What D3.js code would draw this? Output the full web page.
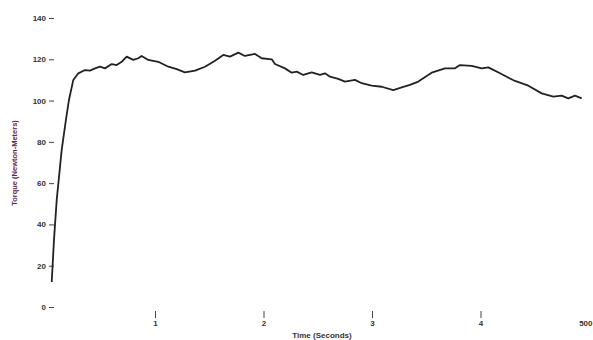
<!DOCTYPE html>
<html>
<head>
<meta charset="utf-8">
<script src="https://cdn.jsdelivr.net/npm/d3@7"></script>
<style>
  body { margin: 0; background: #fff; }
  svg { display: block; }
  .axis text { font-family: "Liberation Sans", Arial, sans-serif; font-size: 8px; font-weight: bold; fill: #333; }
  .axis line { stroke: #444; stroke-width: 1; }
</style>
</head>
<body>
<svg id="chart" width="593" height="340"></svg>
<script>
// time in seconds
var times = [0.048, 0.069, 0.094, 0.140, 0.180, 0.207, 0.247, 0.293, 0.355, 0.401,
  0.447, 0.493, 0.539, 0.601, 0.647, 0.693, 0.739, 0.800, 0.846, 0.877,
  0.938, 1.030, 1.123, 1.200, 1.276, 1.369, 1.461, 1.553, 1.629, 1.691,
  1.768, 1.829, 1.922, 1.983, 2.076, 2.106, 2.198, 2.260, 2.306, 2.367,
  2.444, 2.521, 2.567, 2.613, 2.689, 2.751, 2.843, 2.905, 2.997, 3.089,
  3.196, 3.274, 3.350, 3.427, 3.550, 3.673, 3.765, 3.811, 3.919, 4.011,
  4.072, 4.180, 4.318, 4.441, 4.564, 4.671, 4.748, 4.809, 4.871, 4.933];

// torque in newton-meters
var torque = [12.1, 32.5, 51.8, 76.1, 91.0, 100.3, 110.0, 113.2, 114.8, 114.5,
  115.6, 116.4, 115.6, 117.7, 117.2, 118.8, 121.3, 119.7, 120.5, 121.6,
  119.7, 118.8, 116.4, 115.2, 113.7, 114.5, 116.4, 119.3, 122.1, 121.3,
  123.2, 121.6, 122.6, 120.5, 120.0, 117.7, 115.6, 113.5, 114.0, 112.4,
  113.7, 112.4, 113.2, 111.6, 110.5, 109.2, 110.0, 108.4, 107.2, 106.7,
  105.1, 106.4, 107.6, 109.2, 113.5, 115.6, 115.6, 117.2, 116.8, 115.6,
  116.1, 113.2, 109.5, 107.2, 103.5, 101.9, 102.4, 101.1, 102.4, 101.1];

var yTicks = [0, 20, 40, 60, 80, 100, 120, 140];
var xTicks = [1, 2, 3, 4, 5];
var xTickLabels = ["1", "2", "3", "4", "500"];

var svg = d3.select("#chart");

var x = d3.scaleLinear().domain([0, 5]).range([46.5, 589]);
var y = d3.scaleLinear().domain([0, 140]).range([307, 18]);

var data = times.map(function(t, i) { return { t: t, v: torque[i] }; });

// y axis: tick dashes only
var yAxis = svg.append("g")
    .attr("class", "axis")
    .attr("transform", "translate(54,0)")
    .call(d3.axisLeft(y).tickValues(yTicks).tickSize(5).tickPadding(3));
yAxis.select(".domain").remove();

// x axis
var xAxis = svg.append("g")
    .attr("class", "axis")
    .attr("transform", "translate(0,311)")
    .call(d3.axisBottom(x).tickValues(xTicks).tickSize(7).tickPadding(2)
      .tickFormat(function(d, i) { return xTickLabels[i]; }));
xAxis.select(".domain").remove();

// last tick sits at the right edge: no mark, label pulled inside
var lastTick = xAxis.selectAll(".tick").filter(function(d) { return d === 5; });
lastTick.select("line").remove();
lastTick.select("text")
    .attr("text-anchor", "end")
    .attr("dx", 3);

svg.append("text")
    .attr("x", 322)
    .attr("y", 338)
    .attr("text-anchor", "middle")
    .style("font-family", "Liberation Sans, Arial, sans-serif")
    .style("font-size", "8px")
    .style("font-weight", "bold")
    .style("fill", "#333")
    .text("Time (Seconds)");

svg.append("text")
    .attr("transform", "translate(17,163) rotate(-90)")
    .attr("text-anchor", "middle")
    .style("font-family", "Liberation Sans, Arial, sans-serif")
    .style("font-size", "7.5px")
    .style("font-weight", "bold")
    .style("fill", "#5c1f4f")
    .text("Torque (Newton-Meters)");

var line = d3.line()
    .x(function(d) { return x(d.t); })
    .y(function(d) { return y(d.v); })
    .curve(d3.curveLinear);

svg.append("path")
    .datum(data)
    .attr("d", line)
    .attr("fill", "none")
    .attr("stroke", "#222")
    .attr("stroke-width", 1.8)
    .attr("stroke-linejoin", "round");
</script>
</body>
</html>
